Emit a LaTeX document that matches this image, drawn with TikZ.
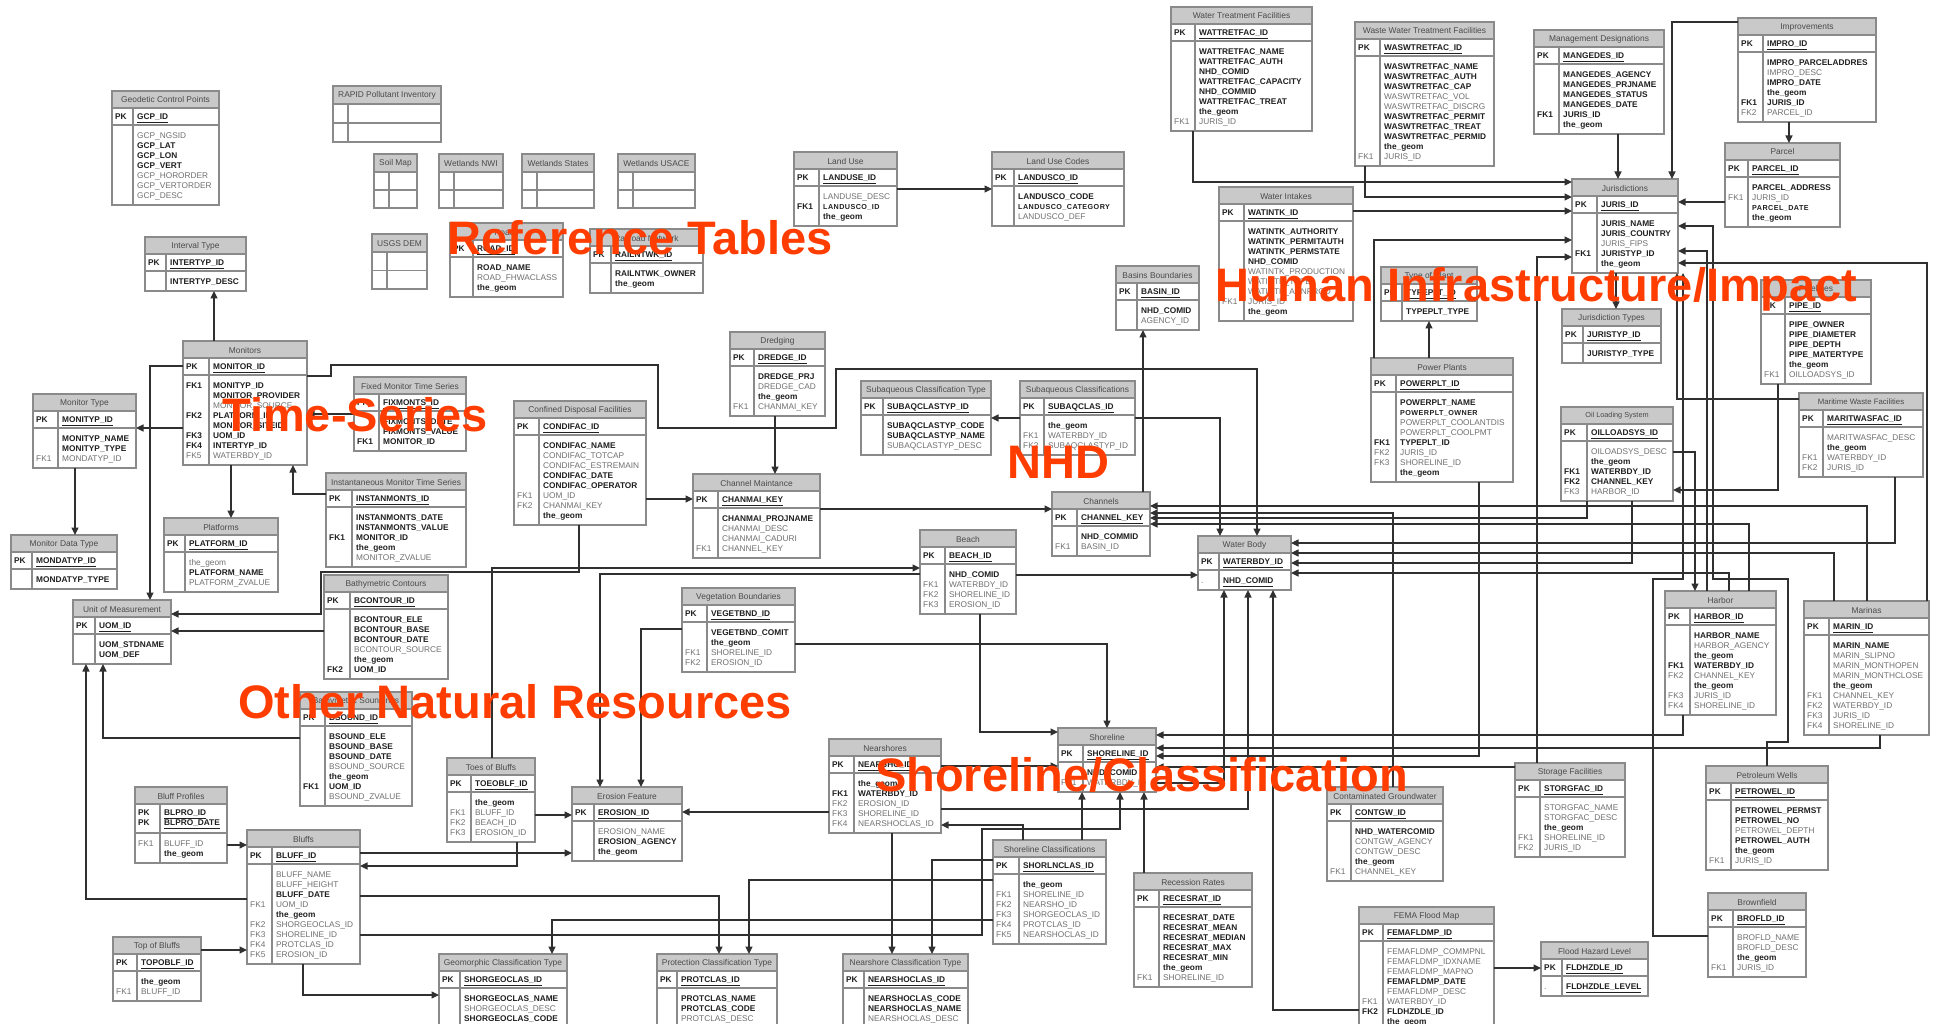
\documentclass[tikz,border=0pt]{standalone}
\usepackage{fontspec}
\setmainfont{Liberation Sans}
\usetikzlibrary{arrows.meta}

\definecolor{tfill}{HTML}{C9C9C9}
\definecolor{tlinec}{HTML}{8A8A8A}
\definecolor{bfield}{HTML}{202020}
\definecolor{gfield}{HTML}{707070}
\definecolor{ttext}{HTML}{4A4A4A}
\definecolor{cline}{HTML}{303030}
\definecolor{hl}{RGB}{255,61,0}

\tikzset{
  tblframe/.style={draw=tlinec, line width=1.1pt},
  fldb/.style={inner sep=0pt, font=\fontsize{8.3}{10}\selectfont\bfseries, text=bfield},
  fldg/.style={inner sep=0pt, font=\fontsize{8.3}{10}\selectfont, text=gfield},
  ttl/.style={inner sep=0pt, font=\fontsize{8.4}{10}\selectfont, text=ttext},
  pkl/.style={inner sep=0pt, font=\fontsize{8.3}{10}\selectfont\bfseries, text=bfield},
  pkf/.style={inner sep=0pt, font=\fontsize{8.3}{10}\selectfont\bfseries, text=bfield},
  fkarrow/.style={draw=cline, line width=1.2pt, -{Triangle[length=7.5pt,width=7pt]}},
  grouplabel/.style={inner sep=0pt, anchor=base west, font=\fontsize{47}{50}\selectfont\bfseries, text=hl},
}

% smaller, wide-set attribute names
\newcommand\sm[1]{{\fontsize{7.2}{10}\selectfont\addfontfeature{LetterSpace=6}#1}}

\newcount\erow
\def\pkh{17}

% one attribute row: style (b/g), key label, field name
\newcommand\Rw[3]{%
  \pgfmathsetmacro\ery{\erty+17+\pkh+13.6+10*\the\erow}%
  \node[fld#1,anchor=base west] at (\ertx+3,\ery) {#2};%
  \node[fld#1,anchor=base west] at (\ertx+\erkw+4,\ery) {#3};%
  \global\advance\erow by 1\relax}

% entity table: name, x, y, width, key column width, title, primary key, rows
\newcommand\ertab[8]{%
  \def\ertx{#2}\def\erty{#3}\def\erkw{#5}%
  \global\erow=0\relax
  \fill[tfill] (#2,#3) rectangle ++(#4,17);
  \node[ttl] at (#2+#4/2,#3+9) {#6};
  \node[pkl,anchor=base west] at (#2+3,#3+28.5) {PK};
  \node[pkf,anchor=base west] at (#2+#5+4,#3+28.5) {\underline{#7}};
  #8%
  \pgfmathsetmacro\erbh{10*\the\erow+10}%
  \pgfmathsetmacro\ertabh{17+\pkh+\erbh}%
  \draw[tblframe] (#2,#3) rectangle ++(#4,\ertabh);
  \draw[tblframe] (#2,#3+17) -- ++(#4,0);
  \draw[tblframe] (#2,#3+17+\pkh) -- ++(#4,0);
  \draw[tblframe] (#2+#5,#3+17) -- (#2+#5,#3+\ertabh);
  \node[inner sep=0pt,outer sep=0pt,minimum width=#4pt,minimum height=\ertabh pt,anchor=north west] (#1) at (#2,#3) {};
}

% empty reference table: name, x, y, width, height, title
\newcommand\emtab[6]{%
  \fill[tfill] (#2,#3) rectangle ++(#4,18);
  \node[ttl] at (#2+#4/2,#3+9.5) {#6};
  \draw[tblframe] (#2,#3) rectangle ++(#4,#5);
  \draw[tblframe] (#2,#3+18) -- ++(#4,0);
  \draw[tblframe] (#2,{#3+18+(#5-18)/2}) -- ++(#4,0);
  \draw[tblframe] (#2+15,#3+18) -- (#2+15,#3+#5);
  \node[inner sep=0pt,outer sep=0pt,minimum width=#4pt,minimum height=#5pt,anchor=north west] (#1) at (#2,#3) {};
}

\begin{document}
\catcode`\_=12
\begin{tikzpicture}[x=1pt,y=-1pt]
\useasboundingbox (0,0) rectangle (1939,1024);
\fill[white] (0,0) rectangle (1939,1024);

% ---------- reference tables ----------
\ertab{gcp}{112}{91}{107}{21}{Geodetic Control Points}{GCP_ID}{%
  \Rw{g}{}{GCP_NGSID}\Rw{b}{}{GCP_LAT}\Rw{b}{}{GCP_LON}\Rw{b}{}{GCP_VERT}%
  \Rw{g}{}{GCP_HORORDER}\Rw{g}{}{GCP_VERTORDER}\Rw{g}{}{GCP_DESC}}
\emtab{rapid}{333}{86}{108}{56}{RAPID Pollutant Inventory}
\emtab{soilmap}{374}{154}{43}{54}{Soil Map}
\emtab{wnwi}{439}{154}{64}{54}{Wetlands NWI}
\emtab{wstates}{522}{154}{72}{54}{Wetlands States}
\emtab{wusace}{618}{154}{77}{54}{Wetlands USACE}
\emtab{usgsdem}{372}{234}{55}{55}{USGS DEM}
\ertab{roads}{450}{223}{113}{23}{Roads}{ROAD_ID}{%
  \Rw{b}{}{ROAD_NAME}\Rw{g}{}{ROAD_FHWACLASS}\Rw{b}{}{the_geom}}
\ertab{rail}{590}{229}{113}{21}{Railroad Network}{RAILNTWK_ID}{%
  \Rw{b}{}{RAILNTWK_OWNER}\Rw{b}{}{the_geom}}
\ertab{landuse}{794}{152}{103}{25}{Land Use}{LANDUSE_ID}{%
  \Rw{g}{}{LANDUSE_DESC}\Rw{b}{FK1}{\sm{LANDUSCO_ID}}\Rw{b}{}{the_geom}}
\ertab{landcodes}{992}{152}{132}{22}{Land Use Codes}{LANDUSCO_ID}{%
  \Rw{b}{}{LANDUSCO_CODE}\Rw{b}{}{\sm{LANDUSCO_CATEGORY}}\Rw{g}{}{LANDUSCO_DEF}}

% ---------- time series ----------
\ertab{inttype}{145}{237}{101}{21}{Interval Type}{INTERTYP_ID}{%
  \Rw{b}{}{INTERTYP_DESC}}
\ertab{monitors}{183}{341}{124}{26}{Monitors}{MONITOR_ID}{%
  \Rw{b}{FK1}{MONITYP_ID}\Rw{b}{}{MONITOR_PROVIDER}\Rw{g}{}{MONITOR_SOURCE}%
  \Rw{b}{FK2}{PLATFORM_ID}\Rw{b}{}{MONITOR_SITEID}\Rw{b}{FK3}{UOM_ID}%
  \Rw{b}{FK4}{INTERTYP_ID}\Rw{g}{FK5}{WATERBDY_ID}}
\ertab{montype}{33}{394}{103}{25}{Monitor Type}{MONITYP_ID}{%
  \Rw{b}{}{MONITYP_NAME}\Rw{b}{}{MONITYP_TYPE}\Rw{g}{FK1}{MONDATYP_ID}}
\ertab{mondtype}{11}{535}{106}{21}{Monitor Data Type}{MONDATYP_ID}{%
  \Rw{b}{}{MONDATYP_TYPE}}
\ertab{platforms}{164}{518}{114}{21}{Platforms}{PLATFORM_ID}{%
  \Rw{g}{}{the_geom}\Rw{b}{}{PLATFORM_NAME}\Rw{g}{}{PLATFORM_ZVALUE}}
\ertab{uom}{73}{600}{98}{22}{Unit of Measurement}{UOM_ID}{%
  \Rw{b}{}{UOM_STDNAME}\Rw{b}{}{UOM_DEF}}
\ertab{fixmts}{354}{377}{112}{25}{Fixed Monitor Time Series}{FIXMONTS_ID}{%
  \Rw{b}{}{FIXMONTS_DATE}\Rw{b}{}{FIXMONTS_VALUE}\Rw{b}{FK1}{MONITOR_ID}}
\ertab{instmts}{326}{473}{140}{26}{Instantaneous Monitor Time Series}{INSTANMONTS_ID}{%
  \Rw{b}{}{INSTANMONTS_DATE}\Rw{b}{}{INSTANMONTS_VALUE}\Rw{b}{FK1}{MONITOR_ID}%
  \Rw{b}{}{the_geom}\Rw{g}{}{MONITOR_ZVALUE}}

% ---------- other natural resources ----------
\ertab{bcont}{324}{575}{124}{26}{Bathymetric Contours}{BCONTOUR_ID}{%
  \Rw{b}{}{BCONTOUR_ELE}\Rw{b}{}{BCONTOUR_BASE}\Rw{b}{}{BCONTOUR_DATE}%
  \Rw{g}{}{BCONTOUR_SOURCE}\Rw{b}{}{the_geom}\Rw{b}{FK2}{UOM_ID}}
\ertab{bsound}{300}{692}{112}{25}{Bathymetric Soundings}{BSOUND_ID}{%
  \Rw{b}{}{BSOUND_ELE}\Rw{b}{}{BSOUND_BASE}\Rw{b}{}{BSOUND_DATE}%
  \Rw{g}{}{BSOUND_SOURCE}\Rw{b}{}{the_geom}\Rw{b}{FK1}{UOM_ID}\Rw{g}{}{BSOUND_ZVALUE}}
\def\pkh{29}
\ertab{bluffprof}{135}{787}{92}{25}{Bluff Profiles}{BLPRO_ID}{%
  \Rw{g}{FK1}{BLUFF_ID}\Rw{b}{}{the_geom}}
\node[pkl,anchor=base west] at (138,825.5) {PK};
\node[pkf,anchor=base west] at (164,825.5) {\underline{BLPRO_DATE}};
\def\pkh{17}
\ertab{bluffs}{247}{830}{113}{25}{Bluffs}{BLUFF_ID}{%
  \Rw{g}{}{BLUFF_NAME}\Rw{g}{}{BLUFF_HEIGHT}\Rw{b}{}{BLUFF_DATE}%
  \Rw{g}{FK1}{UOM_ID}\Rw{b}{}{the_geom}\Rw{g}{FK2}{SHORGEOCLAS_ID}%
  \Rw{g}{FK3}{SHORELINE_ID}\Rw{g}{FK4}{PROTCLAS_ID}\Rw{g}{FK5}{EROSION_ID}}
\ertab{topbluffs}{113}{937}{88}{24}{Top of Bluffs}{TOPOBLF_ID}{%
  \Rw{b}{}{the_geom}\Rw{g}{FK1}{BLUFF_ID}}
\ertab{toes}{447}{758}{88}{24}{Toes of Bluffs}{TOEOBLF_ID}{%
  \Rw{b}{}{the_geom}\Rw{g}{FK1}{BLUFF_ID}\Rw{g}{FK2}{BEACH_ID}\Rw{g}{FK3}{EROSION_ID}}
\ertab{erosion}{572}{787}{110}{22}{Erosion Feature}{EROSION_ID}{%
  \Rw{g}{}{EROSION_NAME}\Rw{b}{}{EROSION_AGENCY}\Rw{b}{}{the_geom}}
\ertab{vegbnd}{682}{588}{113}{25}{Vegetation Boundaries}{VEGETBND_ID}{%
  \Rw{b}{}{VEGETBND_COMIT}\Rw{b}{}{the_geom}\Rw{g}{FK1}{SHORELINE_ID}\Rw{g}{FK2}{EROSION_ID}}
\ertab{cdf}{514}{401}{132}{25}{Confined Disposal Facilities}{CONDIFAC_ID}{%
  \Rw{b}{}{CONDIFAC_NAME}\Rw{g}{}{CONDIFAC_TOTCAP}\Rw{g}{}{CONDIFAC_ESTREMAIN}%
  \Rw{b}{}{CONDIFAC_DATE}\Rw{b}{}{CONDIFAC_OPERATOR}\Rw{g}{FK1}{UOM_ID}%
  \Rw{g}{FK2}{CHANMAI_KEY}\Rw{b}{}{the_geom}}
\ertab{dredge}{730}{332}{95}{24}{Dredging}{DREDGE_ID}{%
  \Rw{b}{}{DREDGE_PRJ}\Rw{g}{}{DREDGE_CAD}\Rw{b}{}{the_geom}\Rw{g}{FK1}{CHANMAI_KEY}}
\ertab{chanmai}{693}{474}{127}{25}{Channel Maintance}{CHANMAI_KEY}{%
  \Rw{b}{}{CHANMAI_PROJNAME}\Rw{g}{}{CHANMAI_DESC}\Rw{g}{}{CHANMAI_CADURI}\Rw{g}{FK1}{CHANNEL_KEY}}

% ---------- NHD ----------
\ertab{sct}{861}{381}{130}{22}{Subaqueous Classification Type}{SUBAQCLASTYP_ID}{%
  \Rw{b}{}{SUBAQCLASTYP_CODE}\Rw{b}{}{SUBAQCLASTYP_NAME}\Rw{g}{}{SUBAQCLASTYP_DESC}}
\ertab{subcl}{1020}{381}{115}{24}{Subaqueous Classifications}{SUBAQCLAS_ID}{%
  \Rw{b}{}{the_geom}\Rw{g}{FK1}{WATERBDY_ID}\Rw{g}{FK2}{SUBAQCLASTYP_ID}}
\ertab{channels}{1052}{492}{98}{25}{Channels}{CHANNEL_KEY}{%
  \Rw{b}{}{NHD_COMMID}\Rw{g}{FK1}{BASIN_ID}}
\ertab{wbody}{1198}{536}{93}{21}{Water Body}{WATERBDY_ID}{%
  \Rw{g}{.}{\textbf{\color{bfield}\underline{NHD_COMID}}}}
\ertab{basins}{1116}{266}{83}{21}{Basins Boundaries}{BASIN_ID}{%
  \Rw{b}{}{NHD_COMID}\Rw{g}{}{AGENCY_ID}}
\ertab{beach}{920}{530}{96}{25}{Beach}{BEACH_ID}{%
  \Rw{b}{}{NHD_COMID}\Rw{g}{FK1}{WATERBDY_ID}\Rw{g}{FK2}{SHORELINE_ID}\Rw{g}{FK3}{EROSION_ID}}

% ---------- shoreline / classification ----------
\ertab{geoct}{439}{954}{128}{21}{Geomorphic Classification Type}{SHORGEOCLAS_ID}{%
  \Rw{b}{}{SHORGEOCLAS_NAME}\Rw{g}{}{SHORGEOCLAS_DESC}\Rw{b}{}{SHORGEOCLAS_CODE}}
\ertab{protct}{657}{954}{120}{20}{Protection Classification Type}{PROTCLAS_ID}{%
  \Rw{b}{}{PROTCLAS_NAME}\Rw{b}{}{PROTCLAS_CODE}\Rw{g}{}{PROTCLAS_DESC}}
\ertab{nearct}{843}{954}{125}{21}{Nearshore Classification Type}{NEARSHOCLAS_ID}{%
  \Rw{b}{}{NEARSHOCLAS_CODE}\Rw{b}{}{NEARSHOCLAS_NAME}\Rw{g}{}{NEARSHOCLAS_DESC}}
\ertab{nearsh}{829}{739}{112}{25}{Nearshores}{NEARSHO_ID}{%
  \Rw{b}{}{the_geom}\Rw{b}{FK1}{WATERBDY_ID}\Rw{g}{FK2}{EROSION_ID}%
  \Rw{g}{FK3}{SHORELINE_ID}\Rw{g}{FK4}{NEARSHOCLAS_ID}}
\ertab{shorecl}{993}{840}{113}{26}{Shoreline Classifications}{SHORLNCLAS_ID}{%
  \Rw{b}{}{the_geom}\Rw{g}{FK1}{SHORELINE_ID}\Rw{g}{FK2}{NEARSHO_ID}%
  \Rw{g}{FK3}{SHORGEOCLAS_ID}\Rw{g}{FK4}{PROTCLAS_ID}\Rw{g}{FK5}{NEARSHOCLAS_ID}}
\ertab{shoreline}{1058}{728}{98}{25}{Shoreline}{SHORELINE_ID}{%
  \Rw{b}{}{NHD_COMID}\Rw{g}{FK1}{WATERBDY_ID}}
\ertab{recess}{1134}{873}{118}{25}{Recession Rates}{RECESRAT_ID}{%
  \Rw{b}{}{RECESRAT_DATE}\Rw{b}{}{RECESRAT_MEAN}\Rw{b}{}{RECESRAT_MEDIAN}%
  \Rw{b}{}{RECESRAT_MAX}\Rw{b}{}{RECESRAT_MIN}\Rw{b}{}{the_geom}\Rw{g}{FK1}{SHORELINE_ID}}

% ---------- human infrastructure / impact ----------
\ertab{wtf}{1171}{7}{141}{24}{Water Treatment Facilities}{WATTRETFAC_ID}{%
  \Rw{b}{}{WATTRETFAC_NAME}\Rw{b}{}{WATTRETFAC_AUTH}\Rw{b}{}{NHD_COMID}%
  \Rw{b}{}{WATTRETFAC_CAPACITY}\Rw{b}{}{NHD_COMMID}\Rw{b}{}{WATTRETFAC_TREAT}%
  \Rw{b}{}{the_geom}\Rw{g}{FK1}{JURIS_ID}}
\ertab{wwtf}{1355}{22}{139}{25}{Waste Water Treatment Facilities}{WASWTRETFAC_ID}{%
  \Rw{b}{}{WASWTRETFAC_NAME}\Rw{b}{}{WASWTRETFAC_AUTH}\Rw{b}{}{WASWTRETFAC_CAP}%
  \Rw{g}{}{WASWTRETFAC_VOL}\Rw{g}{}{WASWTRETFAC_DISCRG}\Rw{b}{}{WASWTRETFAC_PERMIT}%
  \Rw{b}{}{WASWTRETFAC_TREAT}\Rw{b}{}{WASWTRETFAC_PERMID}\Rw{b}{}{the_geom}\Rw{g}{FK1}{JURIS_ID}}
\ertab{mangdes}{1534}{30}{130}{25}{Management Designations}{MANGEDES_ID}{%
  \Rw{b}{}{MANGEDES_AGENCY}\Rw{b}{}{MANGEDES_PRJNAME}\Rw{b}{}{MANGEDES_STATUS}%
  \Rw{b}{}{MANGEDES_DATE}\Rw{b}{FK1}{JURIS_ID}\Rw{b}{}{the_geom}}
\ertab{impro}{1738}{18}{138}{25}{Improvements}{IMPRO_ID}{%
  \Rw{b}{}{IMPRO_PARCELADDRES}\Rw{g}{}{IMPRO_DESC}\Rw{b}{}{IMPRO_DATE}%
  \Rw{b}{}{the_geom}\Rw{b}{FK1}{JURIS_ID}\Rw{g}{FK2}{PARCEL_ID}}
\ertab{parcel}{1725}{143}{115}{23}{Parcel}{PARCEL_ID}{%
  \Rw{b}{}{PARCEL_ADDRESS}\Rw{g}{FK1}{JURIS_ID}\Rw{b}{}{\sm{PARCEL_DATE}}\Rw{b}{}{the_geom}}
\ertab{juris}{1572}{179}{106}{25}{Jurisdictions}{JURIS_ID}{%
  \Rw{b}{}{JURIS_NAME}\Rw{b}{}{JURIS_COUNTRY}\Rw{g}{}{JURIS_FIPS}%
  \Rw{b}{FK1}{JURISTYP_ID}\Rw{b}{}{the_geom}}
\ertab{juristype}{1562}{309}{99}{21}{Jurisdiction Types}{JURISTYP_ID}{%
  \Rw{b}{}{JURISTYP_TYPE}}
\ertab{watint}{1219}{187}{134}{25}{Water Intakes}{WATINTK_ID}{%
  \Rw{b}{}{WATINTK_AUTHORITY}\Rw{b}{}{WATINTK_PERMITAUTH}\Rw{b}{}{WATINTK_PERMSTATE}%
  \Rw{b}{}{NHD_COMID}\Rw{g}{}{WATINTK_PRODUCTION}\Rw{g}{}{WATINTK_TYPE}%
  \Rw{g}{}{WATINTK_ANNPROD}\Rw{g}{FK1}{JURIS_ID}\Rw{b}{}{the_geom}}
\ertab{typeplt}{1381}{267}{96}{21}{Type of Plant}{TYPEPLT_ID}{%
  \Rw{b}{}{TYPEPLT_TYPE}}
\ertab{power}{1371}{358}{142}{25}{Power Plants}{POWERPLT_ID}{%
  \Rw{b}{}{POWERPLT_NAME}\Rw{b}{}{\sm{POWERPLT_OWNER}}\Rw{g}{}{POWERPLT_COOLANTDIS}%
  \Rw{g}{}{POWERPLT_COOLPMT}\Rw{b}{FK1}{TYPEPLT_ID}\Rw{g}{FK2}{JURIS_ID}%
  \Rw{g}{FK3}{SHORELINE_ID}\Rw{b}{}{the_geom}}
\ertab{pipe}{1761}{280}{110}{24}{Pipelines}{PIPE_ID}{%
  \Rw{b}{}{PIPE_OWNER}\Rw{b}{}{PIPE_DIAMETER}\Rw{b}{}{PIPE_DEPTH}%
  \Rw{b}{}{PIPE_MATERTYPE}\Rw{b}{}{the_geom}\Rw{g}{FK1}{OILLOADSYS_ID}}
\ertab{ols}{1561}{407}{112}{26}{{\fontsize{7.3}{9}\selectfont Oil Loading System}}{OILLOADSYS_ID}{%
  \Rw{g}{}{OILOADSYS_DESC}\Rw{b}{}{the_geom}\Rw{b}{FK1}{WATERBDY_ID}%
  \Rw{b}{FK2}{CHANNEL_KEY}\Rw{g}{FK3}{HARBOR_ID}}
\ertab{mwf}{1799}{393}{124}{24}{{\fontsize{7.8}{9}\selectfont Maritime Waste Facilities}}{MARITWASFAC_ID}{%
  \Rw{g}{}{MARITWASFAC_DESC}\Rw{b}{}{the_geom}\Rw{g}{FK1}{WATERBDY_ID}\Rw{g}{FK2}{JURIS_ID}}
\ertab{harbor}{1665}{591}{111}{25}{Harbor}{HARBOR_ID}{%
  \Rw{b}{}{HARBOR_NAME}\Rw{g}{}{HARBOR_AGENCY}\Rw{b}{}{the_geom}%
  \Rw{b}{FK1}{WATERBDY_ID}\Rw{g}{FK2}{CHANNEL_KEY}\Rw{b}{}{the_geom}%
  \Rw{g}{FK3}{JURIS_ID}\Rw{g}{FK4}{SHORELINE_ID}}
\ertab{marinas}{1804}{601}{125}{25}{Marinas}{MARIN_ID}{%
  \Rw{b}{}{MARIN_NAME}\Rw{g}{}{MARIN_SLIPNO}\Rw{g}{}{MARIN_MONTHOPEN}%
  \Rw{g}{}{MARIN_MONTHCLOSE}\Rw{b}{}{the_geom}\Rw{g}{FK1}{CHANNEL_KEY}%
  \Rw{g}{FK2}{WATERBDY_ID}\Rw{g}{FK3}{JURIS_ID}\Rw{g}{FK4}{SHORELINE_ID}}
\ertab{storage}{1515}{763}{110}{25}{Storage Facilities}{STORGFAC_ID}{%
  \Rw{g}{}{STORGFAC_NAME}\Rw{g}{}{STORGFAC_DESC}\Rw{b}{}{the_geom}%
  \Rw{g}{FK1}{SHORELINE_ID}\Rw{g}{FK2}{JURIS_ID}}
\ertab{petro}{1706}{766}{122}{25}{Petroleum Wells}{PETROWEL_ID}{%
  \Rw{b}{}{PETROWEL_PERMST}\Rw{b}{}{PETROWEL_NO}\Rw{g}{}{PETROWEL_DEPTH}%
  \Rw{b}{}{PETROWEL_AUTH}\Rw{b}{}{the_geom}\Rw{g}{FK1}{JURIS_ID}}
\ertab{brown}{1708}{893}{98}{25}{Brownfield}{BROFLD_ID}{%
  \Rw{g}{}{BROFLD_NAME}\Rw{g}{}{BROFLD_DESC}\Rw{b}{}{the_geom}\Rw{g}{FK1}{JURIS_ID}}
\ertab{contgw}{1327}{787}{116}{24}{Contaminated Groundwater}{CONTGW_ID}{%
  \Rw{b}{}{NHD_WATERCOMID}\Rw{g}{}{CONTGW_AGENCY}\Rw{g}{}{CONTGW_DESC}%
  \Rw{b}{}{the_geom}\Rw{g}{FK1}{CHANNEL_KEY}}
\ertab{fema}{1359}{907}{135}{24}{FEMA Flood Map}{FEMAFLDMP_ID}{%
  \Rw{g}{}{FEMAFLDMP_COMMPNL}\Rw{g}{}{FEMAFLDMP_IDXNAME}\Rw{g}{}{FEMAFLDMP_MAPNO}%
  \Rw{b}{}{FEMAFLDMP_DATE}\Rw{g}{}{FEMAFLDMP_DESC}\Rw{g}{FK1}{WATERBDY_ID}%
  \Rw{b}{FK2}{FLDHZDLE_ID}\Rw{b}{}{the_geom}}
\ertab{fhl}{1541}{942}{107}{21}{Flood Hazard Level}{FLDHZDLE_ID}{%
  \Rw{g}{.}{\textbf{\color{bfield}\underline{FLDHZDLE_LEVEL}}}}

% ---------- relationships ----------
\begin{scope}[every path/.style={fkarrow}]
% time series
\draw (214,0 |- monitors.north) -- (214,0 |- inttype.south);
\draw (monitors.west |- 0,428) -- (montype.east |- 0,428);
\draw (monitors.west |- 0,366) -| (150,0 |- uom.north);
\draw (75,0 |- montype.south) -- (75,0 |- mondtype.north);
\draw (231,0 |- monitors.south) -- (231,0 |- platforms.north);
\draw (instmts.west |- 0,494) -| (293,0 |- monitors.south);
\draw (fixmts.west |- 0,414) -- (monitors.east |- 0,414);
\draw (monitors.east |- 0,376) -| (331,365) -| (658,428) -| (836,369) -| (1257,0 |- wbody.north);
\draw (bcont.west |- 0,631) -- (uom.east |- 0,631);
\draw (579,0 |- cdf.south) |- (321,572) |- (uom.east |- 0,614);
% bluffs and natural resources
\draw (bluffs.west |- 0,899) -| (86,0 |- uom.south);
\draw (bsound.west |- 0,738) -| (103,0 |- uom.south);
\draw (bluffprof.east |- 0,845) -- (bluffs.west |- 0,845);
\draw (topbluffs.east |- 0,950) -- (bluffs.west |- 0,950);
\draw (303,0 |- bluffs.south) |- (geoct.west |- 0,995);
\draw (bluffs.east |- 0,853) -- (erosion.west |- 0,853);
\draw (517,0 |- toes.south) |- (bluffs.east |- 0,866);
\draw (bluffs.east |- 0,896) -| (719,0 |- protct.north);
\draw (bluffs.east |- 0,935) -| (982,829) -| (1120,0 |- shoreline.south);
\draw (toes.east |- 0,815) -- (erosion.west |- 0,815);
\draw (492,0 |- toes.north) |- (beach.west |- 0,568);
\draw (beach.west |- 0,574) -| (600,0 |- erosion.north);
\draw (vegbnd.west |- 0,629) -| (641,0 |- erosion.north);
\draw (vegbnd.east |- 0,644) -| (1107,0 |- shoreline.north);
\draw (cdf.east |- 0,499) -- (chanmai.west |- 0,499);
\draw (775,0 |- dredge.south) -- (775,0 |- chanmai.north);
\draw (chanmai.east |- 0,509) -- (channels.west |- 0,509);
\draw (landuse.east |- 0,189) -- (landcodes.west |- 0,189);
% NHD
\draw (subcl.west |- 0,418) -- (sct.east |- 0,418);
\draw (subcl.east |- 0,418) -| (1220,0 |- wbody.north);
\draw (1143,0 |- channels.north) -- (1143,0 |- basins.south);
\draw (beach.east |- 0,575) -- (wbody.west |- 0,575);
\draw (980,0 |- beach.south) |- (shoreline.west |- 0,732);
% shoreline and classification
\draw (nearsh.west |- 0,812) -- (erosion.east |- 0,812);
\draw (892,0 |- nearsh.south) -- (892,0 |- nearct.north);
\draw (nearsh.east |- 0,766) -- (shoreline.west |- 0,766);
\draw (nearsh.east |- 0,809) -| (1248,0 |- wbody.south);
\draw (1023,0 |- shorecl.north) |- (nearsh.east |- 0,825);
\draw (shorecl.west |- 0,920) -| (552,0 |- geoct.north);
\draw (shorecl.west |- 0,880) -| (749,0 |- protct.north);
\draw (shorecl.west |- 0,860) -| (932,0 |- nearct.north);
\draw (1082,0 |- shorecl.north) -- (1082,0 |- shoreline.south);
\draw (1144,0 |- recess.north) -- (1144,0 |- shoreline.south);
\draw (shoreline.east |- 0,783) -| (1224,0 |- wbody.south);
\draw (fema.west |- 0,1010) -| (1273,0 |- wbody.south);
\draw (fema.east |- 0,968) -- (fhl.west |- 0,968);
% infrastructure
\draw (1393,0 |- contgw.north) |- (channels.east |- 0,513);
\draw (1683,0 |- harbor.south) |- (shoreline.east |- 0,735);
\draw (1880,0 |- marinas.south) |- (shoreline.east |- 0,748);
\draw (1479,0 |- power.south) |- (shoreline.east |- 0,756);
\draw (storage.west |- 0,767) -- (shoreline.east |- 0,767);
\draw (1537,0 |- storage.north) |- (juris.west |- 0,257);
\draw (1374,0 |- power.north) |- (juris.west |- 0,240);
\draw (1429,0 |- power.north) -- (1429,0 |- typeplt.south);
\draw (1193,0 |- wtf.south) |- (juris.west |- 0,182);
\draw (1365,0 |- wwtf.south) |- (juris.west |- 0,197);
\draw (watint.east |- 0,211) -- (juris.west |- 0,211);
\draw (1618,0 |- mangdes.south) -- (1618,0 |- juris.north);
\draw (impro.west |- 0,22) -| (1672,0 |- juris.north);
\draw (1789,0 |- impro.south) -- (1789,0 |- parcel.north);
\draw (parcel.west |- 0,202) -- (juris.east |- 0,202);
\draw (1616,0 |- juris.south) -- (1616,0 |- juristype.north);
\draw (mwf.west |- 0,399) -| (1677,0 |- juris.south);
\draw (brown.west |- 0,936) -| (1653,579) -| (1683,0 |- juris.south);
\draw (1707,0 |- harbor.north) |- (juris.east |- 0,251);
\draw (1767,0 |- petro.north) |- (1788,742) |- (1713,579) |- (juris.east |- 0,226);
\draw (1927,0 |- marinas.north) |- (juris.east |- 0,263);
\draw (1778,0 |- pipe.south) |- (ols.east |- 0,490);
\draw (ols.east |- 0,452) -| (1695,0 |- harbor.north);
\draw (1587,0 |- ols.south) |- (channels.east |- 0,518);
\draw (1632,0 |- ols.south) |- (wbody.east |- 0,563);
\draw (1895,0 |- mwf.south) |- (wbody.east |- 0,543);
\draw (1749,0 |- harbor.north) |- (channels.east |- 0,524);
\draw (1729,0 |- harbor.north) |- (wbody.east |- 0,573);
\draw (1834,0 |- marinas.north) |- (wbody.east |- 0,553);
\draw (1867,0 |- marinas.north) |- (channels.east |- 0,506);
\end{scope}

% ---------- group labels ----------
\node[grouplabel] at (447,255) {Reference Tables};
\node[grouplabel] at (222,431) {Time-Series};
\node[grouplabel] at (1007,478) {NHD};
\node[grouplabel] at (1215,302) {Human Infrastructure/Impact};
\node[grouplabel] at (238,718) {Other Natural Resources};
\node[grouplabel] at (875,791) {Shoreline/Classification};
\end{tikzpicture}
\end{document}
